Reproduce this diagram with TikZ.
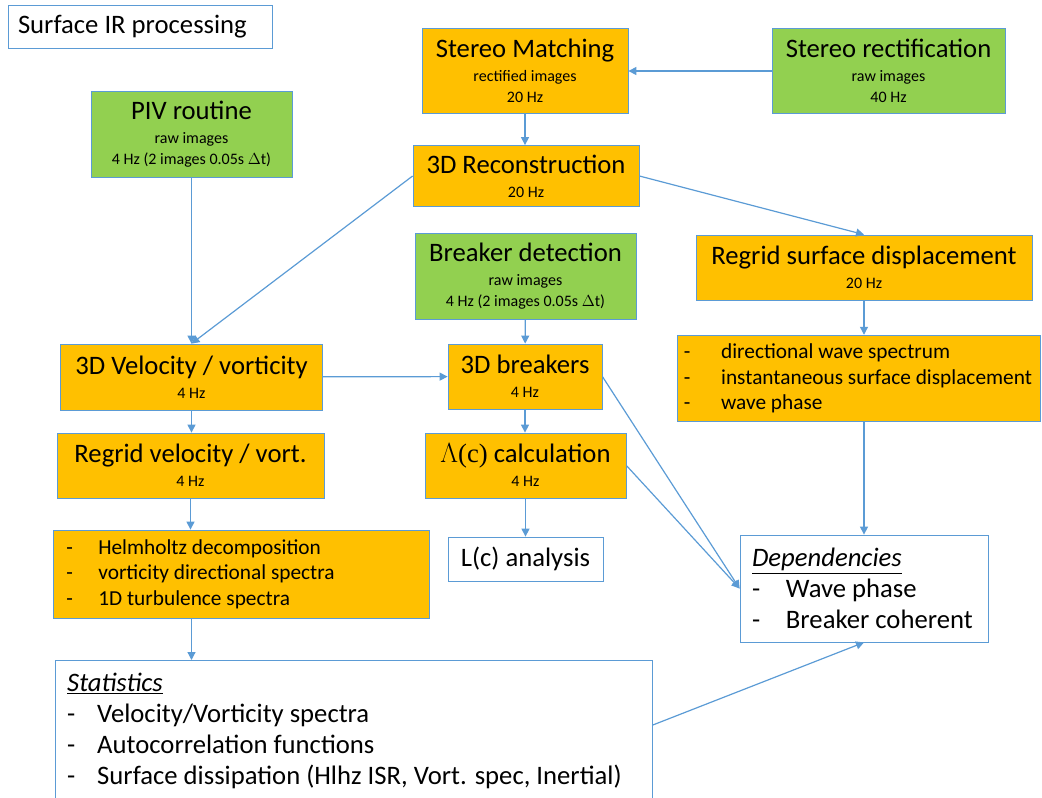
\documentclass[tikz,border=0pt]{standalone}
\usepackage{fontspec}
\setmainfont{Carlito}
\newfontfamily\lamfont{Liberation Serif}
\usetikzlibrary{arrows.meta,positioning}
\definecolor{boxorange}{HTML}{FFC000}
\definecolor{boxgreen}{HTML}{92D050}
\definecolor{edgeblue}{HTML}{5B9BD5}
\newcommand{\hd}{\fontsize{20}{24}\selectfont}
\newcommand{\dashitem}[2]{\makebox[#1][l]{-}#2}

\begin{document}
\begin{tikzpicture}[x=0.75pt,y=-0.75pt,
  box/.style={draw=edgeblue,line width=0.6pt,inner sep=0pt,align=flush center,text=black,font=\fontsize{12}{15.75}\selectfont},
  orange/.style={box,fill=boxorange},
  green/.style={box,fill=boxgreen},
  smalllist/.style={align=flush left,font=\fontsize{16}{19}\selectfont},
  biglist/.style={align=flush left,font=\fontsize{20}{23.25}\selectfont},
  flow/.style={draw=edgeblue,line width=0.9pt,-{Triangle[length=6pt,width=6pt]}}]
\useasboundingbox (0,0) rectangle (1042,797);

% top row
\node[box,minimum width=198pt,minimum height=32.25pt,text width=183pt,align=flush left](title) at (140,26.5){\hd Surface IR processing};
\node[orange,minimum width=154.5pt,minimum height=63.75pt](match) at (525,71){{\hd Stereo Matching}\\[2.25pt]rectified images\\20 Hz};
\node[green,minimum width=174.75pt,minimum height=63.75pt](rectif) at (888.5,71){{\hd Stereo rectification}\\[2.25pt]raw images\\40 Hz};
\node[orange,minimum width=169.5pt,minimum height=45.75pt](recon) at (526,176){{\hd 3D Reconstruction}\\[2.25pt]20 Hz};
\node[green,minimum width=150.75pt,minimum height=64.5pt](piv) at (191.5,134){{\hd PIV routine}\\[2.25pt]raw images\\4 Hz (2 images 0.05s $\Delta$t)};

% middle
\node[green,minimum width=165.75pt,minimum height=64.5pt](detect) at (525.5,276){{\hd Breaker detection}\\[2.25pt]raw images\\4 Hz (2 images 0.05s $\Delta$t)};
\node[orange,minimum width=252pt,minimum height=48.75pt](regsurf) at (864,267.5){{\hd Regrid surface displacement}\\[2.25pt]20 Hz};
\node[orange,minimum width=272.25pt,minimum height=65pt,text width=262pt,smalllist](wavelist) at (858.5,378.5){\dashitem{28pt}{directional wave spectrum}\\\dashitem{28pt}{instantaneous surface displacement}\\\dashitem{28pt}{wave phase}};
\node[orange,minimum width=196.5pt,minimum height=49.5pt](vel) at (191.5,377){{\hd 3D Velocity / vorticity}\\[2.25pt]4 Hz};
\node[orange,minimum width=115.5pt,minimum height=48.75pt](brk) at (525,376.5){{\hd 3D breakers}\\[2.25pt]4 Hz};
\node[orange,minimum width=200.25pt,minimum height=48.75pt](regvel) at (190.5,465.5){{\hd Regrid velocity / vort.}\\[2.25pt]4 Hz};
\node[orange,minimum width=150.75pt,minimum height=48.75pt](lam) at (525.5,465.5){{\hd{\lamfont$\Lambda$(c)} calculation}\\[2.25pt]4 Hz};

% bottom
\node[orange,minimum width=282pt,minimum height=66pt,text width=262pt,smalllist](turblist) at (241,574){\dashitem{24pt}{Helmholtz decomposition}\\\dashitem{24pt}{vorticity directional spectra}\\\dashitem{24pt}{1D turbulence spectra}};
\node[box,minimum width=116.25pt,minimum height=33pt](lcan) at (525.5,559){\hd L(c) analysis};
\node[box,minimum width=186pt,minimum height=80.25pt,text width=168pt,biglist](dep) at (864,588.5){\underline{\textit{Dependencies}}\\\dashitem{25.5pt}{Wave phase}\\\dashitem{25.5pt}{Breaker coherent}};
\node[box,anchor=north west,minimum width=447.75pt,minimum height=106pt,text width=430pt,biglist](stats) at (55,660){\underline{\textit{Statistics}}\\\dashitem{22.5pt}{Velocity/Vorticity spectra}\\\dashitem{22.5pt}{Autocorrelation functions}\\\dashitem{22.5pt}{Surface dissipation (Hlhz ISR, Vort. spec, Inertial)}};

% arrows
\draw[flow](rectif)--(match);
\draw[flow](match)--(match|-recon.north);
\draw[flow](recon.west)--(vel.north);
\draw[flow](piv)--(piv|-vel.north);
\draw[flow](recon.east)--(regsurf.north);
\draw[flow](detect)--(brk);
\draw[flow](vel)--(brk);
\draw[flow](brk)--(brk|-lam.north);
\draw[flow](lam)--(lam|-lcan.north);
\draw[flow](brk.east)--(dep.west);
\draw[flow](lam.east)--(dep.west);
\draw[flow](regsurf)--(regsurf|-wavelist.north);
\draw[flow](wavelist.south-|dep.north)--(dep.north);
\draw[flow](vel)--(vel|-regvel.north);
\draw[flow](regvel)--(regvel|-turblist.north);
\draw[flow](vel.south|-turblist.south)--(vel.south|-stats.north);
\draw[flow]([yshift=-48.75pt]stats.north east)--(dep.south);
\end{tikzpicture}
\end{document}
